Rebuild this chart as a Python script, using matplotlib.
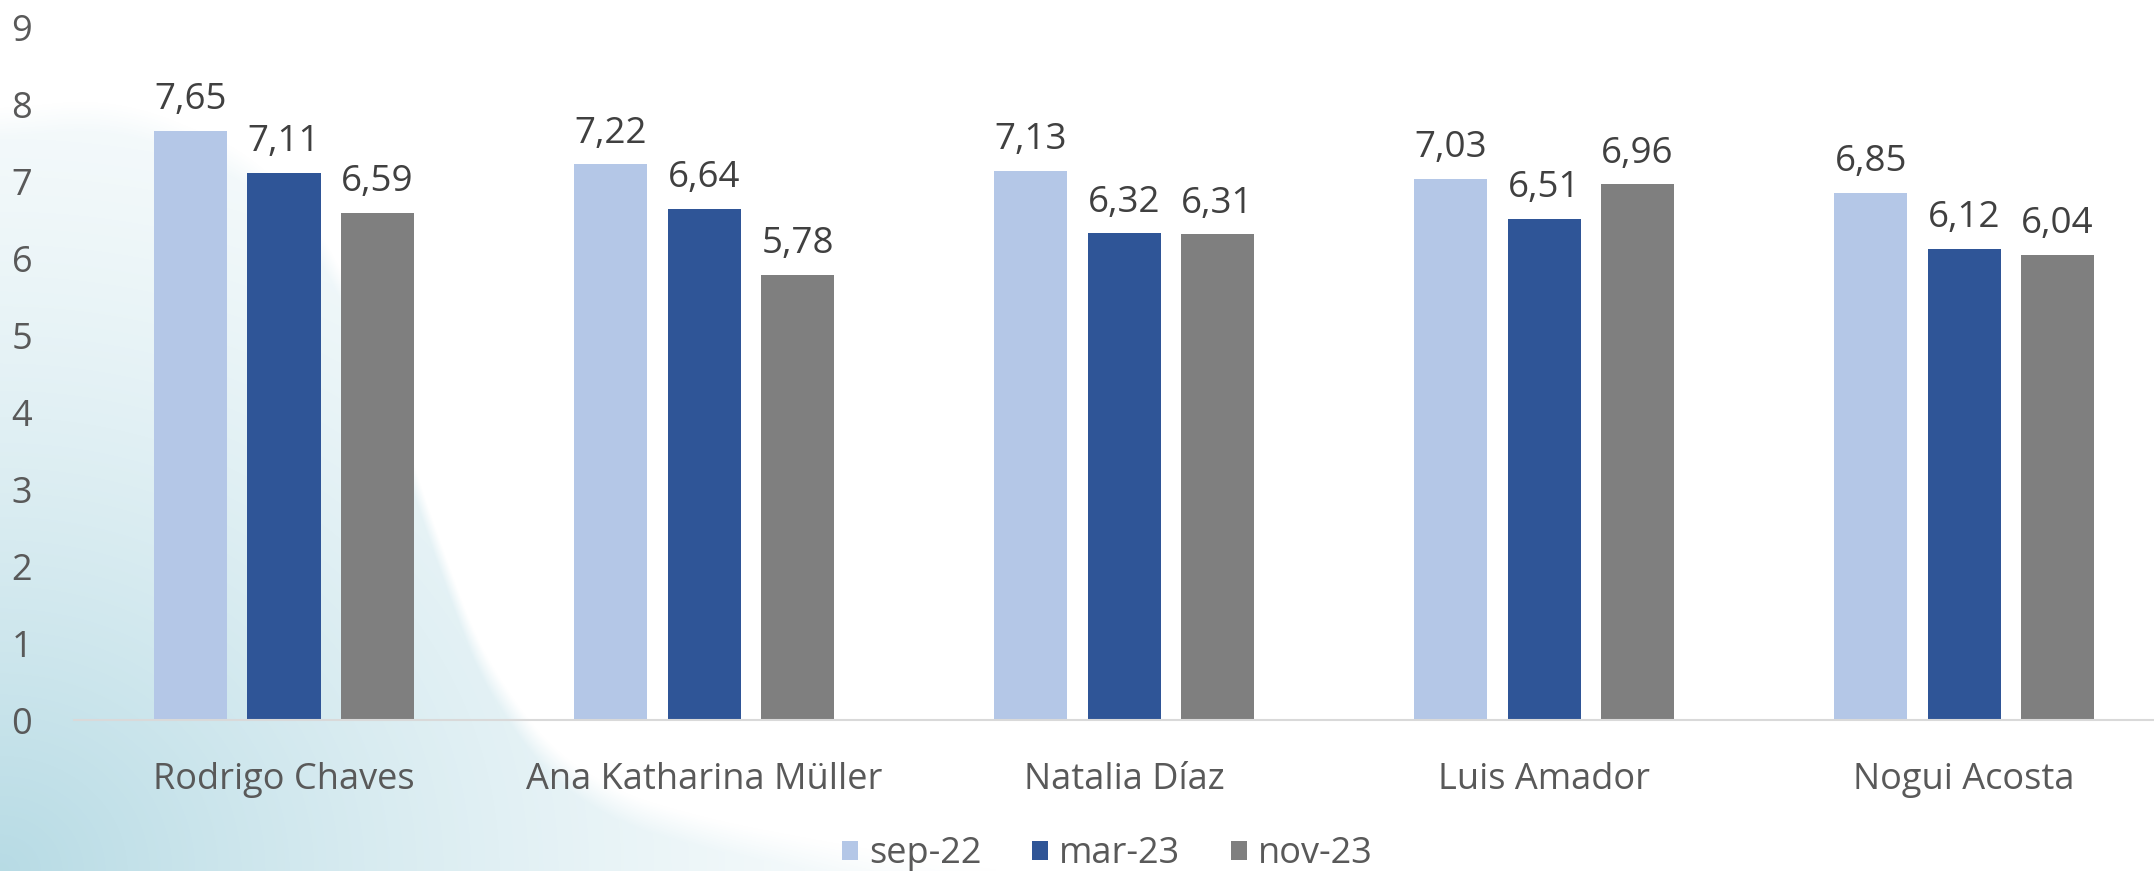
import numpy as np
import matplotlib
matplotlib.use("Agg")
import matplotlib.pyplot as plt

# data
candidates = ["Rodrigo Chaves", "Ana Katharina Müller", "Natalia Díaz", "Luis Amador", "Nogui Acosta"]
periods = ["sep-22", "mar-23", "nov-23"]
sep_22 = [7.65, 7.22, 7.13, 7.03, 6.85]
mar_23 = [7.11, 6.64, 6.32, 6.51, 6.12]
nov_23 = [6.59, 5.78, 6.31, 6.96, 6.04]
y_ticks = list(range(0, 10))

colors = ["#B4C7E7", "#2F5597", "#7F7F7F"]
plt.rcParams["font.family"] = ["Open Sans", "DejaVu Sans"]

W, H = 2154, 871
fig = plt.figure(figsize=(W / 100, H / 100), dpi=100)

# background blob: light teal gradient in the lower left (decoration only)
blob_x = [0, 115, 268, 345, 400, 430, 478, 520, 590, 696, 830, 1000, 1200]
blob_y = [110, 97, 160, 260, 400, 543, 650, 721, 783, 817, 843, 871, 900]
bg = fig.add_axes([0, 0, 1, 1], zorder=-1)
cols = np.arange(W, dtype=float)
edge = np.interp(cols, blob_x, blob_y)
k = np.ones(121) / 121
edge = np.convolve(np.pad(edge, 60, mode="edge"), k, mode="valid")
yy, xx = np.mgrid[0:H, 0:W].astype(float)
inside = np.clip((yy - edge[None, :]) / 30.0, 0, 1)
dist = np.hypot(xx / 1.1, (H - yy) / 1.0)
t = np.clip(1 - dist / 950.0, 0, 1) ** 1.5 * 0.88 + 0.06
teal = np.array([0.70, 0.85, 0.89])
img = np.ones((H, W, 3))
for c in range(3):
    img[..., c] = 1 - (1 - teal[c]) * t * inside
bg.imshow(img, aspect="auto", extent=[0, 1, 0, 1])
bg.axis("off")

ax = fig.add_axes([74 / W, 1 - 720 / H, 1 - 74 / W, (720 - 27) / H])
ax.set_facecolor("none")

x = np.arange(len(candidates))
step = 0.2224
width = 0.174
for i, (vals, lab) in enumerate(zip([sep_22, mar_23, nov_23], periods)):
    pos = x + (i - 1) * step
    bars = ax.bar(pos, vals, width=width, color=colors[i], label=lab, zorder=2)
    for b, v in zip(bars, vals):
        ax.annotate(f"{v:.2f}".replace(".", ","), (b.get_x() + b.get_width() / 2, v),
                    xytext=(0, 15.5), textcoords="offset points",
                    ha="center", va="baseline", fontsize=26.5, color="#404040")

ax.set_xlim(-0.5, 4.452)
ax.set_ylim(0, 9)
ax.set_yticks(y_ticks)
ax.set_xticks(x)
ax.set_xticklabels(candidates)
ax.tick_params(axis="y", length=0, pad=30, labelsize=26, labelcolor="#595959")
ax.tick_params(axis="x", length=0, pad=30, labelsize=26, labelcolor="#595959")
for s in ["top", "right", "left"]:
    ax.spines[s].set_visible(False)
ax.spines["bottom"].set_color("#D9D9D9")
ax.spines["bottom"].set_linewidth(1.5)

leg = fig.legend(loc="center", bbox_to_anchor=(1107 / W, 0.019), ncol=3, frameon=False,
                 fontsize=26, handlelength=0.45, handleheight=0.45, handletextpad=0.3,
                 columnspacing=1.4, borderpad=0)
for txt in leg.get_texts():
    txt.set_color("#595959")

fig.savefig("out.png", dpi=100)
